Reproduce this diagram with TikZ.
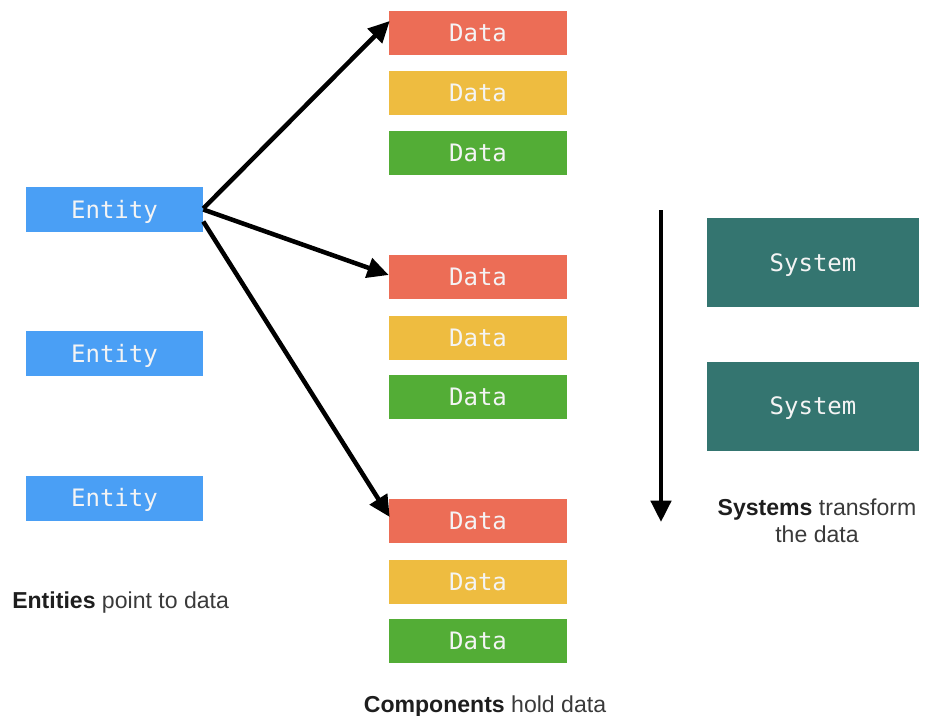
\documentclass[tikz,border=0pt]{standalone}
\usepackage{fontspec}
\setmainfont{Liberation Sans}
\setmonofont{DejaVu Sans Mono}
\usetikzlibrary{arrows.meta,calc}
\definecolor{entityblue}{HTML}{4A9FF5}
\definecolor{datared}{HTML}{EC6D56}
\definecolor{datayellow}{HTML}{EEBC40}
\definecolor{datagreen}{HTML}{53AD36}
\definecolor{systeal}{HTML}{347570}
\definecolor{boxtext}{HTML}{F4F4F4}
\definecolor{labelbold}{HTML}{1E1E1E}
\definecolor{labeltext}{HTML}{3A3A3A}
\newcommand{\keyword}[1]{{\color{labelbold}\textbf{#1}}}
\begin{document}
\begin{tikzpicture}[x=0.75pt,y=-0.75pt,
  box/.style={inner sep=0pt, text=boxtext, text height=13.1pt, text depth=0pt,
    font=\ttfamily\fontsize{18}{20}\selectfont},
  databox/.style={box, minimum width=133.5pt, minimum height=33pt},
  entitybox/.style={box, fill=entityblue, minimum width=132.75pt, minimum height=33.75pt},
  sysbox/.style={box, fill=systeal, minimum width=159pt, minimum height=66.75pt},
  caption/.style={text=labeltext, font=\fontsize{17.3}{20}\selectfont, align=center, inner sep=0pt},
  link/.style={line width=3.4pt, -{Triangle[length=16pt,width=15pt]}}
]
\useasboundingbox (0,0) rectangle (925,715);

% entities
\node[entitybox] (e1) at (114.5,209.5) {Entity};
\node[entitybox] (e2) at (114.5,353.5) {Entity};
\node[entitybox] (e3) at (114.5,498) {Entity};

% component groups
\node[databox, fill=datared]    (a1) at (478,33)  {Data};
\node[databox, fill=datayellow] (a2) at (478,93)  {Data};
\node[databox, fill=datagreen]  (a3) at (478,153) {Data};

\node[databox, fill=datared]    (b1) at (478,277) {Data};
\node[databox, fill=datayellow] (b2) at (478,338) {Data};
\node[databox, fill=datagreen]  (b3) at (478,397) {Data};

\node[databox, fill=datared]    (c1) at (478,521) {Data};
\node[databox, fill=datayellow] (c2) at (478,582) {Data};
\node[databox, fill=datagreen]  (c3) at (478,641) {Data};

% systems
\node[sysbox] (s1) at (813,262.5) {System};
\node[sysbox] (s2) at (813,406)   {System};

% entity pointers
\draw[link] ($(e1.east)+(0,-1)$) -- ($(a1.west)+(1,-12)$);
\draw[link] (e1.east) -- ($(b1.west)+(0,-2)$);
\draw[link] ($(e1.east)+(0,12)$) -- ($(c1.west)+(1,-4)$);

% system flow
\coordinate (flowtop) at (661,210);
\coordinate (flowend) at (661,522);
\draw[line width=3.4pt, -{Triangle[length=16pt,width=15pt]}] (flowtop) -- (flowend);

% captions
\node[caption, anchor=base west] (capE) at (12,608) {\keyword{Entities} point to data};
\node[caption, anchor=base] (capC) at (485,712) {\keyword{Components} hold data};
\node[caption, anchor=base] (capS1) at (817,515) {\keyword{Systems} transform};
\node[caption, anchor=base] (capS2) at (817,542) {the data};
\end{tikzpicture}
\end{document}
